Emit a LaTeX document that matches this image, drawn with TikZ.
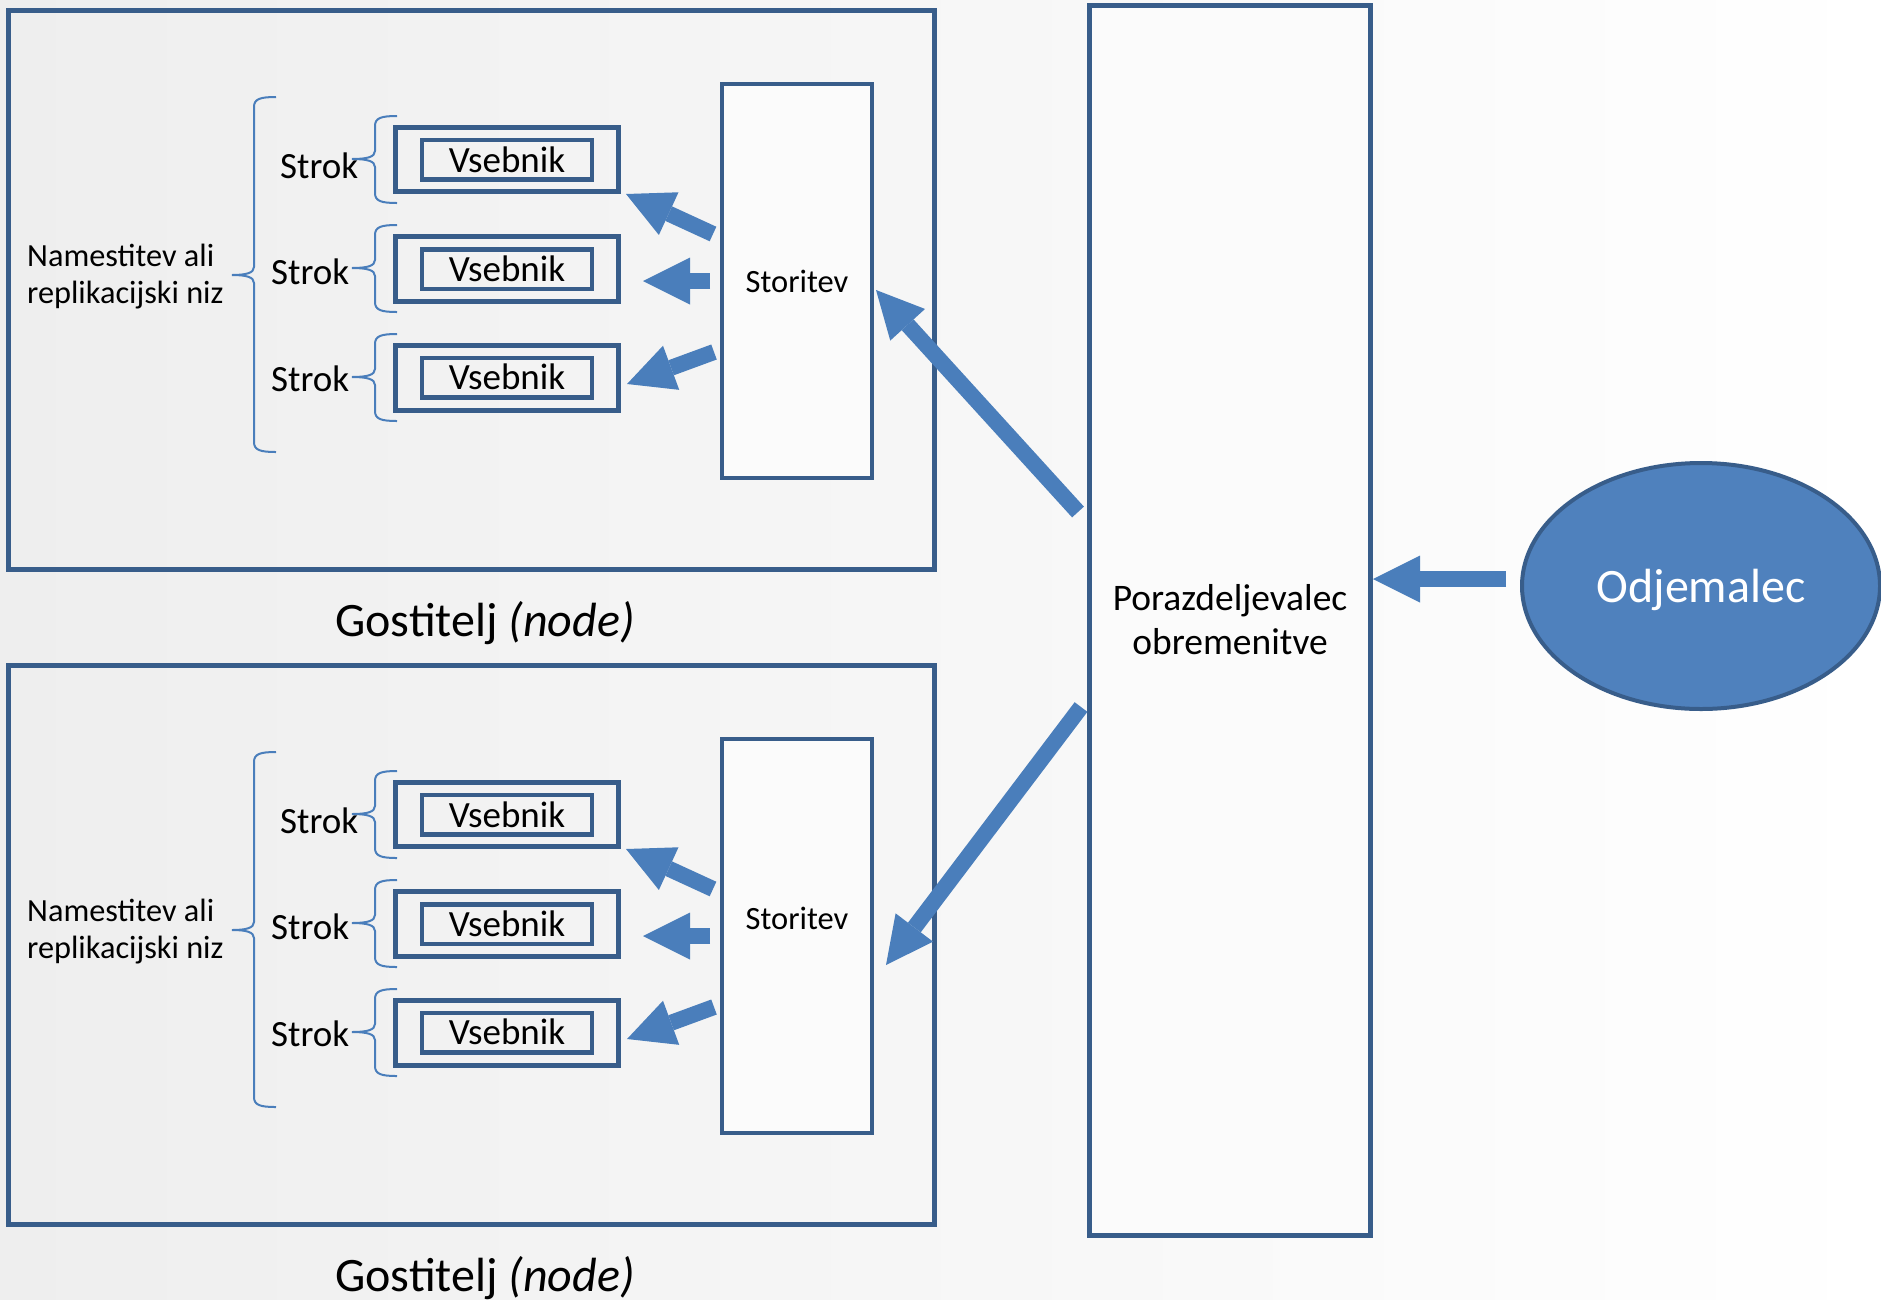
\documentclass[tikz,border=0pt]{standalone}
\usepackage{fontspec}
\setmainfont{Carlito}
\usetikzlibrary{arrows.meta,shapes.geometric}
\definecolor{boxc}{HTML}{385D8A}
\definecolor{arrc}{HTML}{4A7EBB}
\definecolor{ellc}{HTML}{4F81BD}
\definecolor{bgl}{HTML}{EEEEEE}
\definecolor{boxfill}{HTML}{FBFBFB}
\tikzset{
  hostbox/.style={draw=boxc, line width=5pt, inner sep=0pt, minimum width=926pt, minimum height=559pt},
  svcbox/.style={draw=boxc, fill=boxfill, line width=4.5pt, inner sep=0pt, minimum width=150pt, minimum height=394pt},
  podbox/.style={draw=boxc, line width=5pt, inner sep=0pt, minimum width=223pt, minimum height=64.5pt},
  ctrbox/.style={draw=boxc, line width=4.5pt, inner sep=0pt, minimum width=170pt, minimum height=39.5pt},
  lbl/.style={inner sep=0pt, text=black},
  sfont/.style={font=\fontsize{37}{44}\selectfont},
  vfont/.style={font=\fontsize{37}{44}\selectfont},
  bracec/.style={draw=arrc, line width=2pt},
  blockarrow/.style={draw=arrc, line width=16pt, -{Triangle[width=47pt,length=47pt,line width=0pt]}},
}
\newcommand\obrace[6]{%
  \draw[bracec] (#1,#4) .. controls (#2+6,#4) and (#2,#4+2) .. (#2,#4+10)
    -- (#2,#5-8) .. controls (#2,#5-2) and (#2-8,#5) .. (#3,#5)
    .. controls (#2-8,#5) and (#2,#5+2) .. (#2,#5+8)
    -- (#2,#6-10) .. controls (#2,#6-2) and (#2+6,#6) .. (#1,#6);}
\newcommand\hostgroup[3]{%
  \node[hostbox] (host#1) at (471,289.5+#2) {};
  \node[svcbox] (svc#1) at (797,281+#2) {};
  \node[lbl, anchor=base, font=\fontsize{32.5}{38}\selectfont] (svct#1) at (797,#3) {Storitev};
  \node[podbox] (pod#1a) at (506.5,159.5+#2) {};
  \node[podbox] (pod#1b) at (506.5,269+#2) {};
  \node[podbox] (pod#1c) at (506.5,378+#2) {};
  \node[ctrbox] (ctr#1a) at (507,159.5+#2) {};
  \node[ctrbox] (ctr#1b) at (507,269+#2) {};
  \node[ctrbox] (ctr#1c) at (507,377.5+#2) {};
  \node[lbl, anchor=base, vfont] (ctrt#1a) at (507,172+#2) {Vsebnik};
  \node[lbl, anchor=base, vfont] (ctrt#1b) at (507,281+#2) {Vsebnik};
  \node[lbl, anchor=base, vfont] (ctrt#1c) at (507,389+#2) {Vsebnik};
  \node[lbl, anchor=base west, sfont] (strok#1a) at (280,178+#2) {Strok};
  \node[lbl, anchor=base west, sfont] (strok#1b) at (271,284+#2) {Strok};
  \node[lbl, anchor=base west, sfont] (strok#1c) at (271,391+#2) {Strok};
  \node[lbl, anchor=west, align=left, font=\fontsize{32.3}{37.5}\selectfont] (dep#1) at (27,276.5+#2) {Namestitev ali\\replikacijski niz};
  \obrace{276}{254}{232}{97+#2}{275+#2}{452+#2}
  \obrace{397}{375}{352}{116+#2}{159+#2}{203+#2}
  \obrace{397}{375}{352}{225+#2}{268+#2}{312+#2}
  \obrace{397}{375}{352}{334+#2}{377+#2}{421+#2}
  \node[lbl, anchor=base, font=\fontsize{48}{57}\selectfont] (gost#1) at (485,636+#2) {Gostitelj \textit{(node)}};
  \coordinate (sa#1) at (713,234+#2); \coordinate (ea#1) at (626,194+#2);
  \coordinate (sb#1) at (710,281+#2); \coordinate (eb#1) at (643,281+#2);
  \coordinate (sc#1) at (714,352+#2); \coordinate (ec#1) at (627,384+#2);
  \draw[blockarrow] (sa#1) -- (ea#1);
  \draw[blockarrow] (sb#1) -- (eb#1);
  \draw[blockarrow] (sc#1) -- (ec#1);
}
\begin{document}
\begin{tikzpicture}[x=1pt,y=-1pt]
\useasboundingbox (0,0) rectangle (1881,1299);
\fill[left color=bgl,right color=white] (0,0) rectangle (1881,1299);
\node[draw=boxc, fill=boxfill, line width=5pt, minimum width=281pt, minimum height=1230pt, inner sep=0pt] (lb) at (1229.5,620) {};
\node[lbl, align=center, font=\fontsize{37.5}{44}\selectfont] (lbt) at (1230,619.5) {Porazdeljevalec\\obremenitve};
\node[ellipse, draw=boxc, fill=ellc, line width=4pt, minimum width=358pt, minimum height=246pt, inner sep=0pt, text=white, text height=36pt, text depth=4pt, font=\fontsize{48}{57}\selectfont] (client) at (1701,586) {Odjemalec};
\hostgroup{1}{0}{292}
\hostgroup{2}{655}{929}
\coordinate (lbo1) at (1078,512); \coordinate (svi1) at (876,290);
\coordinate (lbo2) at (1081,707); \coordinate (svi2) at (886,965);
\coordinate (clo) at (1506,579); \coordinate (lbi) at (1373,579);
\draw[blockarrow] (lbo1) -- (svi1);
\draw[blockarrow] (lbo2) -- (svi2);
\draw[blockarrow] (clo) -- (lbi);
\end{tikzpicture}
\end{document}
